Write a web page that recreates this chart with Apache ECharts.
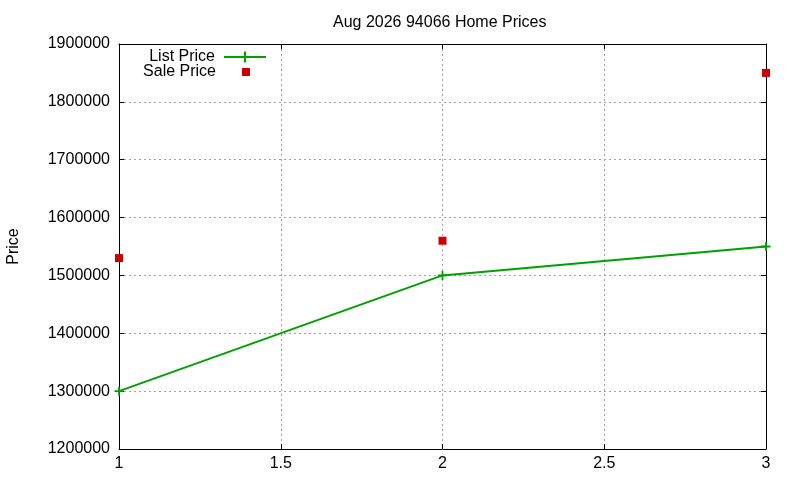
<!DOCTYPE html>
<html><head><meta charset="utf-8">
<script src="https://cdn.jsdelivr.net/npm/echarts@6/dist/echarts.min.js"></script>
<style>html,body{margin:0;padding:0;background:#fff}#c{width:800px;height:480px}</style>
</head><body><div id="c"></div>
<script>
const titleText = 'Aug 2026 94066 Home Prices';
const xValues = [1, 2, 3];
const listPrice = [1300000, 1500000, 1550000];
const salePrice = [1530000, 1560000, 1850000];
const yLabel = 'Price';

const FONT = 'Liberation Sans';
const FS = 16;
const chart = echarts.init(document.getElementById('c'));
const axisCommon = {
  axisLine: {show: true, lineStyle: {color: '#000', width: 1}},
  axisTick: {show: true, inside: true, length: 5, lineStyle: {color: '#000'}},
};
chart.setOption({
  animation: false,
  backgroundColor: '#fff',
  textStyle: {fontFamily: FONT},
  title: {text: titleText, left: 328, top: 10,
    textStyle: {fontFamily: FONT, fontSize: FS, fontWeight: 'normal', color: '#000'}},
  grid: {left: 119, right: 34, top: 44, bottom: 31, containLabel: false, outerBoundsMode: 'none'},
  legend: [
    {data: ['List Price'], orient: 'vertical', align: 'right', right: 533, top: 49, padding: 0,
     itemWidth: 42, itemHeight: 14,
     textStyle: {fontFamily: FONT, fontSize: FS, color: '#000', padding: [0, 4, 0, 0]}},
    {data: ['Sale Price'], orient: 'vertical', align: 'right', right: 550, top: 64, padding: 0,
     itemWidth: 8, itemHeight: 8, icon: 'rect',
     textStyle: {fontFamily: FONT, fontSize: FS, color: '#000', padding: [0, 21, 0, 0]}}
  ],
  xAxis: [
    Object.assign({type: 'value', min: 1, max: 3, interval: 0.5, position: 'bottom',
      axisLabel: {color: '#000', fontSize: FS, fontFamily: FONT, margin: 7},
      splitLine: {show: true, lineStyle: {color: '#a0a0a0', type: [2, 3], width: 1}}}, axisCommon),
    Object.assign({type: 'value', min: 1, max: 3, interval: 0.5, position: 'top',
      axisLabel: {show: false}, splitLine: {show: false}}, axisCommon)
  ],
  yAxis: [
    Object.assign({type: 'value', min: 1200000, max: 1900000, interval: 100000, position: 'left',
      name: yLabel, nameLocation: 'middle', nameGap: 97,
      nameTextStyle: {color: '#000', fontSize: FS, fontFamily: FONT},
      axisLabel: {color: '#000', fontSize: FS, fontFamily: FONT, margin: 9,
        formatter: v => String(v)},
      splitLine: {show: true, lineStyle: {color: '#a0a0a0', type: [2, 3], width: 1}}}, axisCommon),
    Object.assign({type: 'value', min: 1200000, max: 1900000, interval: 100000, position: 'right',
      axisLabel: {show: false}, splitLine: {show: false}}, axisCommon)
  ],
  series: [
    {name: 'List Price', type: 'line', data: xValues.map((x, i) => [x, listPrice[i]]),
     color: '#00a000', lineStyle: {width: 2, color: '#00a000'},
     symbol: 'path://M4,0H6V10H4ZM0,4H10V6H0Z', symbolSize: 9, showSymbol: true,
     itemStyle: {color: '#00a000'}, clip: false, z: 3},
    {name: 'Sale Price', type: 'scatter', data: xValues.map((x, i) => [x, salePrice[i]]),
     symbol: 'rect', symbolSize: 8, itemStyle: {color: '#cc0000', opacity: 1}, color: '#cc0000', clip: false, z: 4}
  ]
});
</script></body></html>
